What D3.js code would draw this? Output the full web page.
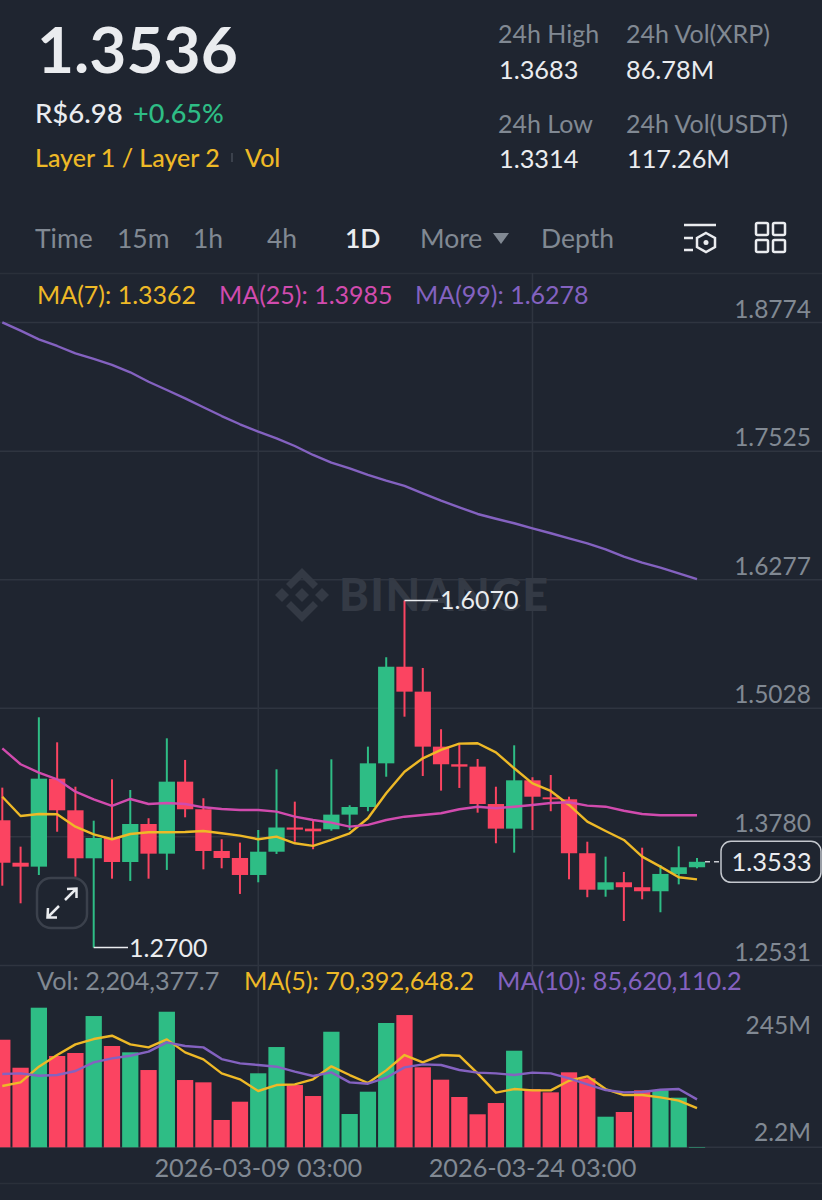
<!DOCTYPE html>
<html>
<head>
<meta charset="utf-8">
<script src="https://d3js.org/d3.v7.min.js"></script>
<style>
  body { margin: 0; background: #1f2530; }
  svg { display: block; }
  text { font-family: Lato, "Open Sans", sans-serif; }
</style>
</head>
<body>
<svg id="chart" width="822" height="1200"></svg>
<script>
// Candles, oldest first
var opens = [1.3936,1.3524,1.3486,1.4340,1.4033,1.3567,1.3764,1.3531,1.3900,1.3612,1.4311,1.4043,1.3638,1.3570,1.3405,1.3631,1.3866,1.3855,1.3849,1.3991,1.4065,1.4489,1.5427,1.5185,1.4651,1.4480,1.4457,1.4094,1.3855,1.4324,1.4159,1.4140,1.3616,1.3262,1.3334,1.3286,1.3247,1.3415,1.3480];
var closes = [1.3524,1.3486,1.4340,1.4033,1.3567,1.3764,1.3531,1.3900,1.3612,1.4311,1.4043,1.3638,1.3570,1.3405,1.3631,1.3866,1.3845,1.3829,1.3991,1.4065,1.4489,1.5427,1.5185,1.4651,1.4480,1.4457,1.4094,1.3855,1.4324,1.4165,1.4140,1.3616,1.3262,1.3334,1.3286,1.3247,1.3415,1.3480,1.3533];
var highs = [1.4253,1.3680,1.4936,1.4693,1.4262,1.3932,1.4334,1.4230,1.3956,1.4732,1.4522,1.4150,1.3752,1.3719,1.3842,1.4431,1.4117,1.3939,1.4528,1.4082,1.4651,1.5519,1.6070,1.5415,1.4820,1.4677,1.4531,1.4262,1.4664,1.4354,1.4376,1.4165,1.3728,1.3583,1.3434,1.3670,1.3502,1.3683,1.3570];
var lows = [1.3301,1.3130,1.3405,1.3825,1.3389,1.2700,1.3369,1.3347,1.3369,1.3454,1.3965,1.3460,1.3470,1.3221,1.3334,1.3609,1.3728,1.3655,1.3835,1.3842,1.4024,1.4359,1.4942,1.4366,1.4224,1.4250,1.4010,1.3713,1.3622,1.3842,1.4024,1.3363,1.3189,1.3194,1.2958,1.3169,1.3043,1.3314,1.3470];

var ma7 = [1.4165,1.3978,1.3997,1.3994,1.3874,1.3800,1.3752,1.3803,1.3820,1.3820,1.3823,1.3832,1.3810,1.3787,1.3752,1.3777,1.3713,1.3687,1.3745,1.3810,1.3956,1.4198,1.4408,1.4538,1.4619,1.4680,1.4684,1.4596,1.4441,1.4295,1.4221,1.4085,1.3923,1.3832,1.3745,1.3583,1.3486,1.3383,1.3362];
var ma25 = [1.4635,1.4480,1.4398,1.4334,1.4214,1.4140,1.4075,1.4143,1.4094,1.4104,1.4094,1.4062,1.4046,1.4036,1.4036,1.4020,1.3971,1.3939,1.3913,1.3874,1.3891,1.3939,1.3971,1.3988,1.4004,1.4043,1.4068,1.4053,1.4068,1.4085,1.4104,1.4111,1.4078,1.4068,1.4029,1.3997,1.3985,1.3985,1.3985];
var ma99 = [1.8771,1.8690,1.8606,1.8541,1.8470,1.8415,1.8357,1.8286,1.8194,1.8114,1.8033,1.7946,1.7861,1.7781,1.7709,1.7645,1.7570,1.7483,1.7408,1.7352,1.7289,1.7233,1.7182,1.7111,1.7039,1.6975,1.6910,1.6864,1.6820,1.6771,1.6723,1.6674,1.6625,1.6567,1.6495,1.6437,1.6389,1.6334,1.6278];

// Volume in millions
var volumes = [189.3,140.6,245,161,166.2,230.5,178.4,167.4,136.6,238,119.2,115.2,49.7,81.5,130.9,176.6,110.5,91.4,203.2,60.1,98.9,218.4,232.2,141.3,119.8,89.7,59.6,79.2,170.2,103.6,97.8,132.6,122.2,55.4,63.6,101.3,101.3,88.5,2.2];
var volMa5 = [108.8,115.1,142.4,162.7,181.2,190.5,196.3,181.2,176,189.9,167.3,155.1,130.8,120.4,100.1,110.5,111.7,120.4,143,127.9,114,136,162.7,149.9,162.7,161.5,130.8,97.2,103.5,101.2,101.2,118,125.6,103.5,93.1,93.1,89,83.3,70.39];
var volMa10 = [129.6,130.8,126.7,127.9,134.9,149.9,156.9,161.5,168.5,184.7,178.3,176,155.7,148.2,145.3,142.4,133.7,126.2,132.5,115.1,112.8,123.3,141.2,146.4,145.3,136.6,132,130.8,127.9,132,130.8,122.1,111.7,101.8,97.8,98.3,102.4,103.5,85.62];

var priceTicks = [1.8774,1.7525,1.6277,1.5028,1.3780,1.2531];
var volTicks = [245,2.2];
var volTickLabels = ["245M","2.2M"];
var dateTickIndex = [14,29];
var dateTickLabels = ["2026-03-09 03:00","2026-03-24 03:00"];
var navItems = ["Time","15m","1h","4h","1D","More","Depth"];
var lastPrice = 1.3533;

var GREEN = "#2ebd85", RED = "#fb4461", YELLOW = "#eeb927", PINK = "#d14bae", PURPLE = "#8462c0";
var GRAY = "#818993", WHITE = "#eaecef", GRID = "#2f3540";

var svg = d3.select("#chart");
var idx = d3.range(opens.length);

// Scales
var x = d3.scaleBand().domain(idx).range([-6.84, 706.14]).paddingInner(0.11).paddingOuter(0.055);
var cx = i => x(i) + x.bandwidth() / 2;
var y = d3.scaleLinear().domain([1.2531, 1.8774]).range([965, 322]);
var yVol = d3.scaleLinear().domain([2.2, 245]).range([1147.3, 1007.7]);

function label(t, px, py, size, fill, opts) {
  opts = opts || {};
  return svg.append("text").attr("x", px).attr("y", py).attr("font-size", size)
    .attr("fill", fill).attr("font-weight", opts.weight || 400)
    .attr("text-anchor", opts.anchor || "start").text(t);
}

// Separators
[273, 1183].forEach(v => svg.append("line").attr("x1", 0).attr("x2", 822).attr("y1", v + .5).attr("y2", v + .5).attr("stroke", "#2a303a").attr("stroke-width", 1.5));

// Price grid and labels
var yAxis = d3.axisRight(y).tickValues(priceTicks).tickSize(822).tickFormat(d3.format(".4f"));
var yG = svg.append("g").call(yAxis);
yG.select(".domain").remove();
yG.selectAll("line").attr("stroke", GRID).attr("stroke-width", 1.5);
yG.selectAll("text").attr("x", 811).attr("dy", "-0.2em").attr("text-anchor", "end")
  .attr("font-size", 24.5).attr("fill", GRAY);

// Date ticks: vertical grid and labels
var xAxis = d3.axisBottom(x).tickValues(dateTickIndex).tickSize(874)
  .tickFormat(d => dateTickLabels[dateTickIndex.indexOf(d)]);
var xG = svg.append("g").attr("transform", "translate(0,273)").call(xAxis);
xG.select(".domain").remove();
xG.selectAll("line").attr("stroke", GRID).attr("stroke-width", 1.5);
xG.selectAll("text").attr("y", 904).attr("dy", 0).attr("font-size", 25.3).attr("fill", GRAY);

// Volume baseline and labels
var vG = svg.append("g");
vG.append("line").attr("x1", 0).attr("x2", 822).attr("y1", yVol(2.2)).attr("y2", yVol(2.2)).attr("stroke", GRID).attr("stroke-width", 1.5);
volTicks.forEach((v, i) => {
  label(volTickLabels[i], 811, yVol(v) + (i == 0 ? 26 : -6), 24.5, GRAY, {anchor: "end"});
});

// Watermark
var wm = svg.append("g").attr("fill", "#343a45");
wm.append("text").attr("x", 339).attr("y", 611).attr("font-size", 45).attr("font-weight", 900).attr("letter-spacing", 1.5).text("BINANCE");
var logo = wm.append("g").attr("transform", "translate(302,595)");
["M0 -27 L16 -11 L11 -6 L0 -17 L-11 -6 L-16 -11 Z", "M0 27 L16 11 L11 6 L0 17 L-11 6 L-16 11 Z",
 "M0 -7 L7 0 L0 7 L-7 0 Z", "M-20 -7 L-13 0 L-20 7 L-27 0 Z", "M20 -7 L27 0 L20 7 L13 0 Z"].forEach(d => logo.append("path").attr("d", d));

// Volume bars
svg.append("g").selectAll("rect").data(idx).join("rect")
  .attr("x", i => x(i)).attr("width", x.bandwidth())
  .attr("y", i => yVol(volumes[i]))
  .attr("height", i => Math.max(0.5, yVol(2.2) - yVol(volumes[i])))
  .attr("fill", i => closes[i] >= opens[i] ? GREEN : RED);

// Candles
var candles = svg.append("g").selectAll("g").data(idx).join("g")
  .attr("fill", i => closes[i] >= opens[i] ? GREEN : RED)
  .attr("stroke", i => closes[i] >= opens[i] ? GREEN : RED);
candles.append("line").attr("x1", cx).attr("x2", cx)
  .attr("y1", i => y(highs[i])).attr("y2", i => y(lows[i])).attr("stroke-width", 2);
candles.append("rect").attr("stroke", "none")
  .attr("x", i => x(i)).attr("width", x.bandwidth())
  .attr("y", i => y(Math.max(opens[i], closes[i])))
  .attr("height", i => Math.max(1.5, Math.abs(y(opens[i]) - y(closes[i]))));

// Moving average lines
function maLine(values, scale, color) {
  var line = d3.line().x((d, i) => cx(i)).y(d => scale(d));
  svg.append("path").datum(values).attr("d", line).attr("fill", "none")
    .attr("stroke", color).attr("stroke-width", 2.4).attr("stroke-linejoin", "round");
}
maLine(ma7, y, YELLOW);
maLine(ma25, y, PINK);
maLine(ma99, y, PURPLE);
maLine(volMa5, yVol, YELLOW);
maLine(volMa10, yVol, PURPLE);

// High / low callouts
var hiIdx = d3.maxIndex(highs), loIdx = d3.minIndex(lows);
svg.append("line").attr("x1", cx(hiIdx)).attr("x2", 438).attr("y1", y(highs[hiIdx])).attr("y2", y(highs[hiIdx])).attr("stroke", WHITE).attr("stroke-width", 1.5);
label(highs[hiIdx].toFixed(4), 440, y(highs[hiIdx]) + 9, 25, WHITE);
svg.append("line").attr("x1", cx(loIdx)).attr("x2", 128).attr("y1", y(lows[loIdx])).attr("y2", y(lows[loIdx])).attr("stroke", WHITE).attr("stroke-width", 1.5);
label(lows[loIdx].toFixed(4), 129, y(lows[loIdx]) + 9, 25, WHITE);

// Last price tag
svg.append("line").attr("x1", cx(38) + 8).attr("x2", 721).attr("y1", y(lastPrice)).attr("y2", y(lastPrice))
  .attr("stroke", "#c9ccd1").attr("stroke-width", 1.5).attr("stroke-dasharray", "5 4");
svg.append("rect").attr("x", 721).attr("y", y(lastPrice) - 20.5).attr("width", 100).attr("height", 41).attr("rx", 10)
  .attr("fill", "#1f2530").attr("stroke", "#c4c8ce").attr("stroke-width", 1.5);
label(lastPrice.toFixed(4), 771.5, y(lastPrice) + 9, 25.5, WHITE, {anchor: "middle"});

// Expand button
var btn = svg.append("g").attr("fill", "none").attr("stroke", "#eaecef").attr("stroke-width", 2.5);
btn.append("rect").attr("x", 37).attr("y", 878).attr("width", 50).attr("height", 50).attr("rx", 14).attr("stroke", "#3b414c").attr("fill", "#1f2530");
btn.append("path").attr("d", "M65 900 L76 889 M67 889 L76.5 888.5 L76.5 898 M59 906 L48 917 M48 908 L47.5 917.5 L57 917.5");

// Header
label("1.3536", 37, 73, 64, "#eaecef", {weight: 700});
label("R$6.98", 35, 123, 27.5, "#eaecef", {weight: 500});
label("+0.65%", 133, 123, 27, GREEN, {weight: 500});
label("Layer 1 / Layer 2", 35, 167, 25, YELLOW, {weight: 500});
svg.append("line").attr("x1", 232).attr("x2", 232).attr("y1", 153).attr("y2", 162).attr("stroke", "#3b414c").attr("stroke-width", 2);
label("Vol", 245, 167, 25, YELLOW, {weight: 500});

label("24h High", 498, 43, 25, GRAY);
label("1.3683", 499, 79, 25.3, WHITE);
label("24h Vol(XRP)", 626, 43, 25, GRAY);
label("86.78M", 626, 79, 25.3, WHITE);
label("24h Low", 498, 133, 25, GRAY);
label("1.3314", 499, 168, 25.3, WHITE);
label("24h Vol(USDT)", 626, 133, 25, GRAY);
label("117.26M", 627, 168, 25.3, WHITE);

// Interval nav
var navX = [35, 117, 193, 267, 345, 420, 541];
navItems.forEach((t, i) => {
  label(t, navX[i], 248, 26.5, t == "1D" ? WHITE : GRAY, {weight: t == "1D" ? 600 : 400});
});
svg.append("path").attr("d", "M493 233 H509 L501 244 Z").attr("fill", GRAY);

var icons = svg.append("g").attr("fill", "none").attr("stroke", "#eaecef").attr("stroke-width", 2.5);
icons.append("path").attr("d", "M684 225 H716 M684 238 H693 M684 250 H693");
icons.append("path").attr("d", "M706 233 L715 238 V247 L706 252 L697 247 V238 Z");
svg.append("circle").attr("cx", 706).attr("cy", 242.5).attr("r", 2.5).attr("fill", "#eaecef");
[[756, 223], [773, 223], [756, 240], [773, 240]].forEach(d => {
  icons.append("rect").attr("x", d[0]).attr("y", d[1]).attr("width", 12).attr("height", 12).attr("rx", 1.5);
});

// Legends
label("MA(7): 1.3362", 37, 304, 25, YELLOW);
label("MA(25): 1.3985", 219, 304, 25, PINK);
label("MA(99): 1.6278", 415, 304, 25, PURPLE);
label("Vol: 2,204,377.7", 37, 990, 25.2, GRAY);
label("MA(5): 70,392,648.2", 244, 990, 25.2, YELLOW);
label("MA(10): 85,620,110.2", 497, 990, 25.2, PURPLE);
</script>
</body>
</html>
